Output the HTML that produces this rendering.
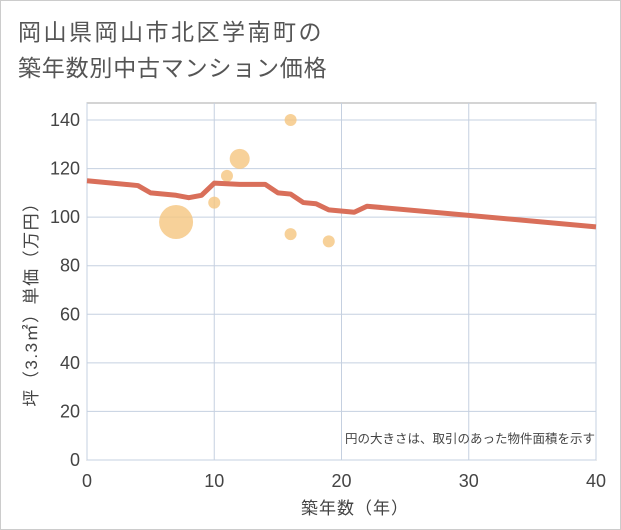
<!DOCTYPE html>
<html><head><meta charset="utf-8"><style>
body{margin:0;background:#fff;}
#wrap{width:619px;height:528px;border:1px solid #ccc;position:relative;background:#fff;font-family:"Liberation Sans","Noto Sans CJK JP",sans-serif;}
</style></head><body>
<div id="wrap">
<svg id="c" width="621" height="530" style="position:absolute;left:-1px;top:-1px">
<text x="18" y="40" font-size="23" letter-spacing="2.5" fill="#555" font-family="Liberation Sans, Noto Sans CJK JP, sans-serif">岡山県岡山市北区学南町の</text>
<text x="18" y="76" font-size="23" letter-spacing="0.8" fill="#555" font-family="Liberation Sans, Noto Sans CJK JP, sans-serif">築年数別中古マンション価格</text>
<rect x="87" y="103" width="509" height="357" fill="#fff" stroke="#aaa"/>
<g id="grid"></g><g id="marks"></g><g id="axes"></g>
<text x="595" y="443" font-size="12.5" fill="#444" text-anchor="end" font-family="Liberation Sans, Noto Sans CJK JP, sans-serif">円の大きさは、取引のあった物件面積を示す</text>
<text x="355" y="514" font-size="17" letter-spacing="1" fill="#444" text-anchor="middle" font-family="Liberation Sans, Noto Sans CJK JP, sans-serif">築年数（年）</text>
<text transform="translate(37,300) rotate(-90)" font-size="17" letter-spacing="1.5" fill="#444" text-anchor="middle" font-family="Liberation Sans, Noto Sans CJK JP, sans-serif">坪（3.3㎡）単価（万円）</text>
</svg></div>
<script>
const xTicks=[0,10,20,30,40];
const yTicks=[0,20,40,60,80,100,120,140];
const lineX=[0,4,5,7,8,9,10,12,14,15,16,17,18,19,21,22,40];
const lineY=[115,113,110,109,108,109,114,113.5,113.5,110,109.5,106,105.5,103,102,104.5,96];
const bubbleX=[7,12,11,10,16,16,19];
const bubbleY=[98,124,117,106,140,93,90];
const bubbleR=[17,10,6,6,6,6,6];
const NS="http://www.w3.org/2000/svg";
const sx=v=>87+v*(596-87)/40, sy=v=>460-v*(460-120)/140;
function mk(t,a,p){const e=document.createElementNS(NS,t);for(const k in a)e.setAttribute(k,a[k]);p.appendChild(e);return e;}
const g=document.getElementById('grid'),m=document.getElementById('marks'),ax=document.getElementById('axes');
xTicks.forEach(v=>{
 const l=mk('line',{x1:sx(v),x2:sx(v),y1:103,y2:460,stroke:'#c5d0e0'},g);
 
 
 const t=mk('text',{x:sx(v),y:487,'font-size':18,fill:'#444','text-anchor':'middle'},ax);t.textContent=v;
 
 
});
yTicks.forEach(v=>{
 const l=mk('line',{x1:87,x2:596,y1:sy(v),y2:sy(v),stroke:'#c5d0e0'},g);
 
 
 const t=mk('text',{x:80,y:sy(v)+6,'font-size':18,fill:'#444','text-anchor':'end'},ax);t.textContent=v;
 
 
});
bubbleX.forEach((v,i)=>{
 const c=mk('circle',{cx:sx(v),cy:sy(bubbleY[i]),r:bubbleR[i],fill:'#f5c57f',opacity:0.8},m);
 
 
});
const p=mk('polyline',{points:lineX.map((v,i)=>sx(v)+','+sy(lineY[i])).join(' '),fill:'none',stroke:'#d96f5a','stroke-width':5,'stroke-linejoin':'round'},m);


</script>
</body></html>
